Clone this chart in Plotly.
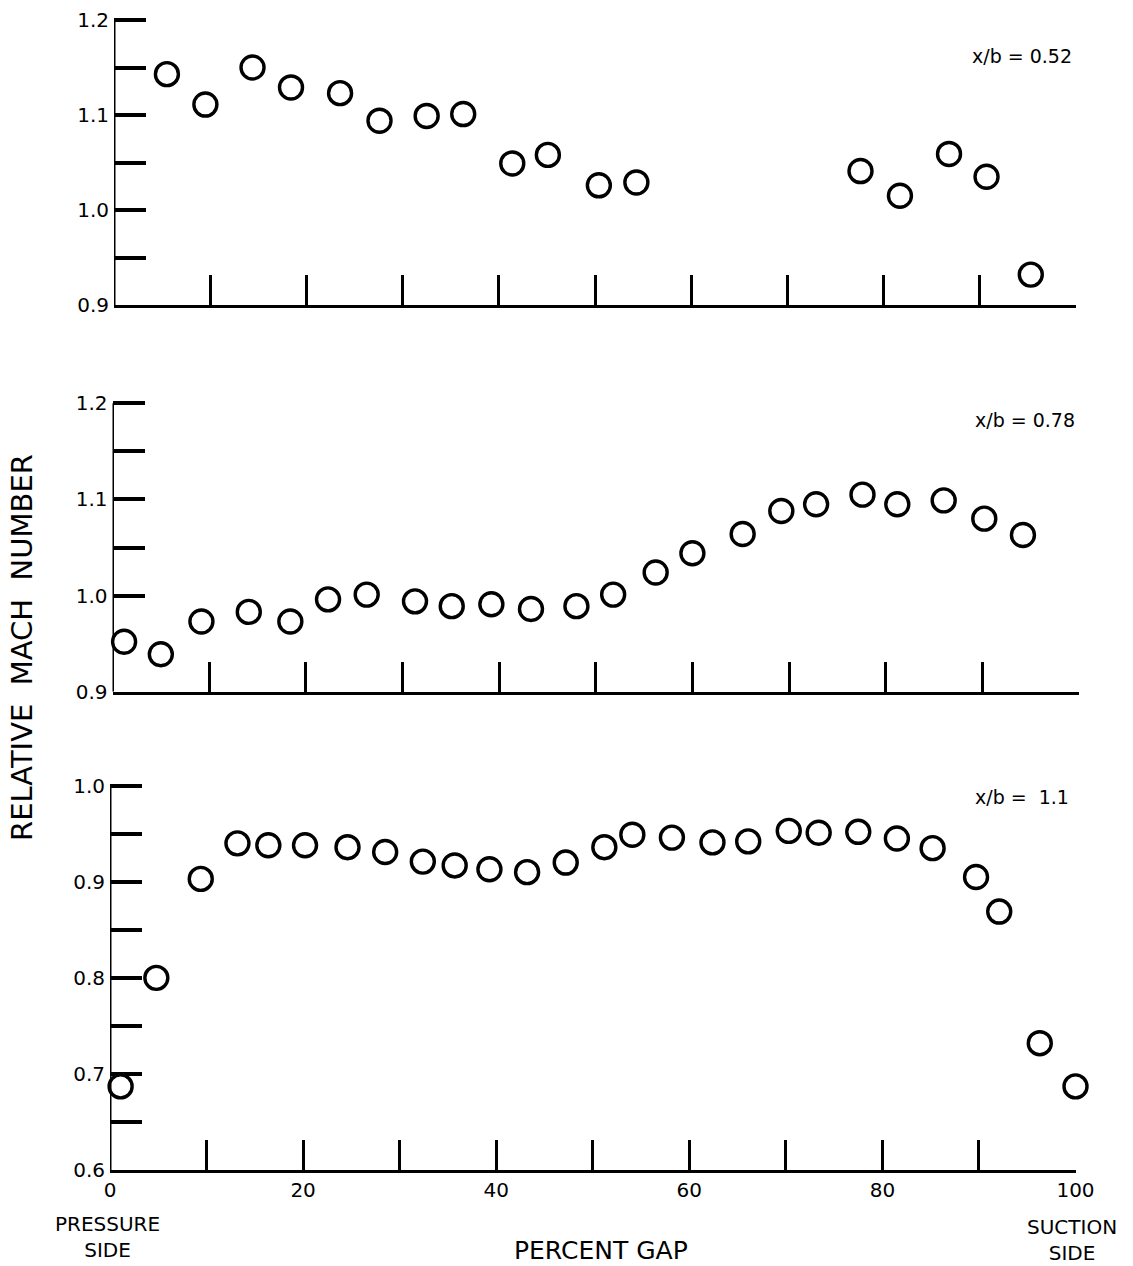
import plotly.graph_objects as go

W, H = 1133, 1266

# ---- data ----
gap_052 = [5.5, 9.5, 14.4, 18.4, 23.5, 27.6, 32.5, 36.3, 41.4, 45.1, 50.4, 54.3, 77.6, 81.7, 86.8, 90.7, 95.3]
mach_052 = [1.143, 1.111, 1.150, 1.129, 1.123, 1.094, 1.099, 1.101, 1.049, 1.058, 1.026, 1.029, 1.041, 1.015, 1.059, 1.035, 0.932]

gap_078 = [1.2, 5.0, 9.2, 14.1, 18.4, 22.3, 26.3, 31.3, 35.1, 39.2, 43.3, 48.0, 51.8, 56.2, 60.0, 65.2, 69.2, 72.8, 77.6, 81.2, 86.0, 90.2, 94.2]
mach_078 = [0.952, 0.939, 0.973, 0.983, 0.973, 0.996, 1.001, 0.994, 0.989, 0.991, 0.986, 0.989, 1.001, 1.024, 1.044, 1.064, 1.088, 1.095, 1.105, 1.095, 1.099, 1.080, 1.063]

gap_11 = [1.1, 4.8, 9.4, 13.2, 16.4, 20.2, 24.6, 28.5, 32.4, 35.7, 39.3, 43.2, 47.2, 51.2, 54.1, 58.2, 62.4, 66.1, 70.3, 73.4, 77.5, 81.5, 85.2, 89.7, 92.1, 96.3, 100.0]
mach_11 = [0.687, 0.800, 0.903, 0.940, 0.938, 0.938, 0.936, 0.931, 0.921, 0.917, 0.913, 0.910, 0.920, 0.936, 0.949, 0.946, 0.941, 0.942, 0.953, 0.951, 0.952, 0.945, 0.935, 0.905, 0.869, 0.732, 0.687]

panel_labels = ["x/b = 0.52", "x/b = 0.78", "x/b =  1.1"]
x_tickvals = [0, 10, 20, 30, 40, 50, 60, 70, 80, 90, 100]
x_ticktext = ["0", "", "20", "", "40", "", "60", "", "80", "", "100"]
y_top_vals = [0.9, 0.95, 1.0, 1.05, 1.1, 1.15, 1.2]
y_top_text = ["0.9", "", "1.0", "", "1.1", "", "1.2"]
y_mid_vals = [0.9, 1.0, 1.05, 1.1, 1.15, 1.2]
y_mid_text = ["0.9", "1.0", "", "1.1", "", "1.2"]
y_bot_vals = [0.6, 0.65, 0.7, 0.75, 0.8, 0.85, 0.9, 0.95, 1.0]
y_bot_text = ["0.6", "", "0.7", "", "0.8", "", "0.9", "", "1.0"]

FONT = "DejaVu Sans"

# pixel geometry of each panel: (x0px, x100px, ybottom_px, ytop_px)
panels = [
    (114.0, 1076.0, 305.0, 20.0),
    (112.5, 1079.0, 691.7, 403.3),
    (110.0, 1075.5, 1170.0, 785.7),
]
yranges = [[0.9, 1.2], [0.9, 1.2], [0.6, 1.0]]
yticks = [(y_top_vals, y_top_text), (y_mid_vals, y_mid_text), (y_bot_vals, y_bot_text)]

fig = go.Figure()
series = [(gap_052, mach_052), (gap_078, mach_078), (gap_11, mach_11)]
for i, (gx, gy) in enumerate(series):
    sfx = "" if i == 0 else str(i + 1)
    fig.add_trace(go.Scatter(
        x=gx, y=gy, mode="markers", xaxis="x" + sfx, yaxis="y" + sfx, cliponaxis=False,
        marker=dict(symbol="circle-open", size=23, color="black", line=dict(width=3.4, color="black")),
        showlegend=False, hoverinfo="skip",
    ))

layout = dict(
    width=W, height=H, margin=dict(l=0, r=0, t=0, b=0, pad=0, autoexpand=False),
    paper_bgcolor="white", plot_bgcolor="white", showlegend=False,
    font=dict(family=FONT, color="black"),
)
for i, (x0, x1, yb, yt) in enumerate(panels):
    sfx = "" if i == 0 else str(i + 1)
    bottom = (i == 2)
    lo, hi = yranges[i]
    per_px = (hi - lo) / (yb - yt)
    pad_px = 2.0  # tiny headroom so the top tick mark is always drawn
    layout["xaxis" + sfx] = dict(
        domain=[x0 / W, x1 / W], range=[0, 100], anchor="y" + sfx, automargin=False,
        showgrid=False, zeroline=False, showline=True, linecolor="black", linewidth=3,
        ticks="inside", ticklen=30, tickwidth=3, tickcolor="black",
        tickmode="array", tickvals=x_tickvals[1:] if not bottom else x_tickvals,
        ticktext=([""] * 10) if not bottom else x_ticktext,
        showticklabels=bottom, tickfont=dict(size=20, family=FONT),
        fixedrange=True,
    )
    yv, yt_ = yticks[i]
    layout["yaxis" + sfx] = dict(
        domain=[1 - yb / H, 1 - (yt - pad_px) / H], range=[lo, hi + pad_px * per_px],
        anchor="x" + sfx, automargin=False,
        showgrid=False, zeroline=False, showline=False,
        ticks="inside", ticklen=32, tickwidth=3.5, tickcolor="black",
        tickmode="array", tickvals=yv, ticktext=yt_, ticklabelstandoff=4,
        tickfont=dict(size=20, family=FONT), fixedrange=True,
    )
    # vertical axis line from the bottom to the top labelled value
    fig.add_shape(type="line", xref="x" + sfx, yref="y" + sfx, x0=0, x1=0, y0=lo, y1=hi,
                  line=dict(color="black", width=3), layer="above")
fig.update_layout(**layout)

ann_pos = [(1022, 56), (1025, 420), (1022, 797)]
for (px, py), txt in zip(ann_pos, panel_labels):
    fig.add_annotation(x=px / W, y=1 - py / H, xref="paper", yref="paper", text=txt,
                       showarrow=False, font=dict(size=19, family=FONT), xanchor="center", yanchor="middle")

fig.add_annotation(x=107 / W, y=1 - 1237 / H, xref="paper", yref="paper", text="PRESSURE<br>SIDE",
                   showarrow=False, font=dict(size=20, family=FONT), xanchor="center", yanchor="middle")
fig.add_annotation(x=1072 / W, y=1 - 1240 / H, xref="paper", yref="paper", text="SUCTION<br>SIDE",
                   showarrow=False, font=dict(size=20, family=FONT), xanchor="center", yanchor="middle")
fig.add_annotation(x=601 / W, y=1 - 1250 / H, xref="paper", yref="paper", text="PERCENT GAP",
                   showarrow=False, font=dict(size=25, family=FONT), xanchor="center", yanchor="middle")
fig.add_annotation(x=22 / W, y=1 - 648 / H, xref="paper", yref="paper", text="RELATIVE  MACH  NUMBER",
                   showarrow=False, textangle=-90, font=dict(size=29, family=FONT),
                   xanchor="center", yanchor="middle")

fig.write_html("out.html", config={"displayModeBar": False},
               post_script="document.body.style.margin='0';document.body.style.overflow='hidden';")
